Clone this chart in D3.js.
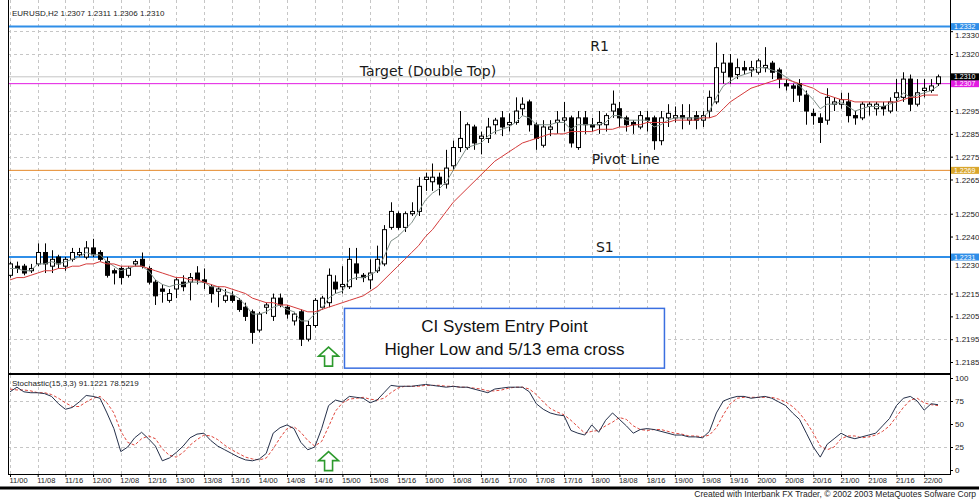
<!DOCTYPE html>
<html>
<head>
<meta charset="utf-8">
<script src="https://cdn.jsdelivr.net/npm/d3@7"></script>
<style>
  body { margin: 0; background: #fff; }
  svg { display: block; }
</style>
</head>
<body>
<svg id="chart" width="979" height="502"></svg>
<script>
// ---- data (one value per 2h bar) ----
const opens = [
  1.2223,1.2227,1.2227,1.2225,1.2228,1.2233,1.2227,1.2231,1.2227,1.2230,
  1.2232,1.2231,1.2235,1.2233,1.2229,1.2225,1.2226,1.2223,1.2228,1.2230,
  1.2226,1.2220,1.2217,1.2212,1.2217,1.2220,1.2220,1.2224,1.2221,1.2218,
  1.2216,1.2212,1.2214,1.2212,1.2209,1.2207,1.2199,1.2209,1.2205,1.2213,
  1.2209,1.2203,1.2207,1.2195,1.2201,1.2209,1.2211,1.2220,1.2218,1.2218,
  1.2228,1.2223,1.2221,1.2225,1.2228,1.2244,1.2250,1.2244,1.2250,1.2251,
  1.2265,1.2264,1.2266,1.2263,1.2271,1.2279,1.2279,1.2288,1.2283,1.2283,
  1.2289,1.2292,1.2289,1.2290,1.2296,1.2299,1.2289,1.2280,1.2287,1.2290,
  1.2291,1.2292,1.2279,1.2292,1.2289,1.2289,1.2289,1.2295,1.2296,1.2292,
  1.2290,1.2288,1.2292,1.2292,1.2282,1.2292,1.2292,1.2293,1.2291,1.2293,
  1.2291,1.2295,1.2299,1.2312,1.2316,1.2311,1.2314,1.2313,1.2312,1.2314,
  1.2316,1.2313,1.2307,1.2306,1.2307,1.2302,1.2294,1.2292,1.2291,1.2298,
  1.2298,1.2299,1.2293,1.2292,1.2297,1.2296,1.2297,1.2295,1.2301,1.2301,
  1.2309,1.2298,1.2304,1.2304,1.2307
];
const highs = [
  1.2229,1.2229,1.2228,1.2228,1.2237,1.2237,1.2234,1.2232,1.2231,1.2235,
  1.2235,1.2238,1.2239,1.2234,1.2231,1.2226,1.2227,1.2227,1.2230,1.2233,
  1.2227,1.2221,1.2219,1.2217,1.2222,1.2223,1.2224,1.2227,1.2226,1.2219,
  1.2218,1.2217,1.2216,1.2213,1.2211,1.2208,1.2207,1.2211,1.2215,1.2215,
  1.2210,1.2207,1.2208,1.2203,1.2213,1.2214,1.2226,1.2223,1.2227,1.2235,
  1.2235,1.2224,1.2230,1.2236,1.2245,1.2255,1.2251,1.2251,1.2255,1.2266,
  1.2268,1.2272,1.2268,1.2278,1.2282,1.2295,1.2290,1.2289,1.2286,1.2292,
  1.2292,1.2295,1.2294,1.2301,1.2301,1.2300,1.2290,1.2291,1.2291,1.2295,
  1.2299,1.2293,1.2295,1.2295,1.2292,1.2295,1.2294,1.2304,1.2299,1.2293,
  1.2291,1.2295,1.2295,1.2293,1.2295,1.2298,1.2297,1.2298,1.2298,1.2295,
  1.2295,1.2304,1.2325,1.2320,1.2320,1.2318,1.2317,1.2317,1.2318,1.2323,
  1.2317,1.2314,1.2309,1.2307,1.2309,1.2304,1.2296,1.2294,1.2305,1.2301,
  1.2303,1.2303,1.2295,1.2299,1.2299,1.2299,1.2299,1.2301,1.2309,1.2312,
  1.2311,1.2309,1.2309,1.2309,1.2311
];
const lows = [
  1.2222,1.2224,1.2223,1.2224,1.2227,1.2224,1.2224,1.2226,1.2225,1.2229,
  1.2231,1.2230,1.2231,1.2229,1.2222,1.2219,1.2219,1.2222,1.2227,1.2226,
  1.2219,1.2210,1.2211,1.2211,1.2213,1.2216,1.2212,1.2219,1.2217,1.2211,
  1.2209,1.2211,1.2211,1.2207,1.2203,1.2193,1.2198,1.2206,1.2203,1.2209,
  1.2204,1.2201,1.2192,1.2194,1.2200,1.2208,1.2209,1.2215,1.2215,1.2217,
  1.2221,1.2220,1.2217,1.2224,1.2227,1.2243,1.2243,1.2242,1.2249,1.2249,
  1.2260,1.2260,1.2258,1.2261,1.2269,1.2277,1.2278,1.2278,1.2276,1.2281,
  1.2285,1.2284,1.2286,1.2289,1.2293,1.2286,1.2278,1.2279,1.2284,1.2285,
  1.2286,1.2279,1.2278,1.2285,1.2286,1.2285,1.2286,1.2292,1.2288,1.2286,
  1.2285,1.2287,1.2286,1.2278,1.2280,1.2288,1.2290,1.2287,1.2289,1.2287,
  1.2288,1.2292,1.2298,1.2307,1.2307,1.2309,1.2311,1.2310,1.2311,1.2312,
  1.2309,1.2305,1.2304,1.2299,1.2299,1.2289,1.2289,1.2281,1.2289,1.2295,
  1.2296,1.2290,1.2289,1.2291,1.2293,1.2293,1.2293,1.2294,1.2295,1.2299,
  1.2295,1.2297,1.2301,1.2303,1.2306
];
const closes = [
  1.2228,1.2226,1.2224,1.2226,1.2233,1.2228,1.2230,1.2228,1.2230,1.2233,
  1.2233,1.2235,1.2232,1.2230,1.2223,1.2224,1.2222,1.2226,1.2229,1.2227,
  1.2220,1.2214,1.2216,1.2215,1.2221,1.2218,1.2222,1.2221,1.2220,1.2215,
  1.2217,1.2214,1.2212,1.2208,1.2205,1.2198,1.2206,1.2210,1.2213,1.2210,
  1.2206,1.2206,1.2195,1.2201,1.2212,1.2213,1.2223,1.2217,1.2219,1.2230,
  1.2224,1.2222,1.2224,1.2230,1.2243,1.2251,1.2244,1.2250,1.2251,1.2262,
  1.2266,1.2266,1.2263,1.2270,1.2279,1.2283,1.2289,1.2281,1.2284,1.2288,
  1.2291,1.2288,1.2290,1.2295,1.2298,1.2289,1.2283,1.2288,1.2288,1.2291,
  1.2292,1.2281,1.2292,1.2289,1.2288,1.2290,1.2293,1.2298,1.2292,1.2289,
  1.2289,1.2293,1.2291,1.2282,1.2292,1.2294,1.2293,1.2292,1.2292,1.2291,
  1.2293,1.2301,1.2314,1.2316,1.2310,1.2314,1.2313,1.2314,1.2317,1.2315,
  1.2312,1.2309,1.2306,1.2305,1.2302,1.2295,1.2293,1.2290,1.2301,1.2299,
  1.2300,1.2293,1.2292,1.2298,1.2298,1.2298,1.2296,1.2299,1.2303,1.2309,
  1.2298,1.2303,1.2305,1.2306,1.2310
];

// 5 ema (grey) and 13 ema (red)
const emaFast = [
  1.2226,1.2226,1.2225,1.2225,1.2228,1.2228,1.2229,1.2228,1.2229,1.2230,
  1.2231,1.2233,1.2232,1.2232,1.2229,1.2227,1.2225,1.2226,1.2227,1.2227,
  1.2225,1.2221,1.2219,1.2218,1.2219,1.2219,1.2220,1.2220,1.2220,1.2218,
  1.2218,1.2216,1.2215,1.2213,1.2210,1.2206,1.2206,1.2207,1.2209,1.2210,
  1.2208,1.2207,1.2203,1.2203,1.2206,1.2208,1.2213,1.2215,1.2216,1.2221,
  1.2222,1.2222,1.2223,1.2225,1.2231,1.2238,1.2240,1.2243,1.2246,1.2251,
  1.2256,1.2259,1.2261,1.2264,1.2269,1.2274,1.2279,1.2280,1.2281,1.2284,
  1.2286,1.2287,1.2288,1.2290,1.2293,1.2292,1.2289,1.2289,1.2289,1.2290,
  1.2290,1.2287,1.2289,1.2289,1.2289,1.2289,1.2290,1.2293,1.2293,1.2291,
  1.2291,1.2291,1.2291,1.2288,1.2289,1.2291,1.2292,1.2292,1.2292,1.2292,
  1.2292,1.2295,1.2301,1.2306,1.2308,1.2310,1.2311,1.2312,1.2314,1.2314,
  1.2313,1.2312,1.2310,1.2308,1.2306,1.2303,1.2300,1.2296,1.2298,1.2298,
  1.2299,1.2297,1.2295,1.2296,1.2297,1.2297,1.2297,1.2298,1.2299,1.2303,
  1.2301,1.2302,1.2303,1.2304,1.2306
];
const emaSlow = [
  1.2221,1.2222,1.2222,1.2223,1.2224,1.2225,1.2225,1.2226,1.2226,1.2227,
  1.2227,1.2228,1.2228,1.2229,1.2228,1.2228,1.2227,1.2227,1.2227,1.2227,
  1.2226,1.2225,1.2224,1.2223,1.2222,1.2222,1.2221,1.2221,1.2220,1.2219,
  1.2218,1.2218,1.2217,1.2216,1.2215,1.2213,1.2212,1.2211,1.2211,1.2210,
  1.2210,1.2209,1.2208,1.2207,1.2207,1.2208,1.2209,1.2210,1.2211,1.2212,
  1.2213,1.2214,1.2216,1.2218,1.2221,1.2224,1.2227,1.2230,1.2233,1.2236,
  1.2240,1.2243,1.2247,1.2251,1.2255,1.2258,1.2261,1.2264,1.2267,1.2270,
  1.2273,1.2275,1.2277,1.2279,1.2281,1.2282,1.2283,1.2284,1.2285,1.2285,
  1.2285,1.2286,1.2286,1.2286,1.2286,1.2287,1.2287,1.2287,1.2288,1.2288,
  1.2289,1.2289,1.2290,1.2290,1.2290,1.2290,1.2291,1.2291,1.2291,1.2291,
  1.2292,1.2292,1.2293,1.2296,1.2299,1.2301,1.2303,1.2305,1.2306,1.2307,
  1.2308,1.2309,1.2309,1.2308,1.2307,1.2306,1.2305,1.2303,1.2302,1.2301,
  1.2300,1.2300,1.2299,1.2299,1.2299,1.2299,1.2299,1.2299,1.2299,1.2300,
  1.2301,1.2301,1.2302,1.2302,1.2302
];

// Stochastic(15,3,3): main (solid) and signal (dashed)
const stochMain = [
  85,90,85,84,84,83,80,72,66,68,
  74,81,80,78,62,45,20,25,35,41,
  34,26,10,13,19,26,35,39,40,32,
  26,22,18,14,11,10,12,18,40,46,
  49,45,30,22,25,45,70,76,74,80,
  79,78,73,76,84,92,91,91,91,92,
  93,92,91,90,91,90,90,88,86,84,
  88,89,90,90,90,85,72,66,62,60,
  59,43,40,38,49,41,54,62,55,48,
  40,44,45,44,42,40,38,38,36,36,
  35,42,62,75,78,80,80,78,79,80,
  78,74,70,62,55,40,25,14,28,34,
  40,36,34,36,38,40,48,56,70,78,
  80,75,65,72,71
];
const stochSignal = [
  88,87,87,86,84,84,82,78,73,69,
  69,74,78,80,73,62,42,30,27,34,
  37,34,23,16,14,19,27,33,38,37,
  33,27,22,18,14,12,11,13,23,35,
  45,47,41,32,26,31,47,64,73,77,
  78,79,77,76,78,84,89,91,91,91,
  92,92,92,91,91,90,90,89,88,86,
  86,87,89,90,90,88,82,74,67,63,
  60,54,47,40,42,43,48,52,57,55,
  48,44,43,44,44,42,40,39,37,37,
  36,38,46,60,72,78,79,79,79,79,
  79,77,74,69,62,52,40,26,22,25,
  34,37,37,35,36,38,42,48,58,68,
  76,78,73,71,70
];

const priceTicks = [1.2330,1.2320,1.2295,1.2285,1.2275,1.2265,1.2250,1.2240,1.2230,1.2215,1.2205,1.2195,1.2185];
const priceGrid = [1.2330,1.2320,1.2295,1.2285,1.2275,1.2265,1.2250,1.2215,1.2195];
const stochTicks = [0,25,50,75,100];
const stochGrid = [25,75];
const dateLabels = [
  "11/00","11/08","11/16","12/00","12/08","12/16","13/00","13/08","13/16",
  "14/00","14/08","14/16","15/00","15/08","15/16","16/00","16/08","16/16",
  "17/00","17/08","17/16","18/00","18/08","18/16","19/00","19/08","19/16",
  "20/00","20/08","20/16","21/00","21/08","21/16","22/00"
];
const barsPerLabel = 4;

// horizontal levels drawn on the chart
const levelNames  = ["R1","Target (Double Top)","Bid","Pivot Line","S1"];
const levelValues = [1.2332, 1.2307, 1.2310, 1.2269, 1.2231];
const entryBar = 46;

// ---- layout ----
const svg = d3.select("#chart");
const left = 8, right = 950, mainBottom = 374, stochTop = 375, stochBottom = 474;

const x = d3.scaleLinear().domain([0, opens.length - 1]).range([10, 938]);
const y = d3.scaleLinear().domain([1.2185, 1.2320]).range([362, 54]);
const ys = d3.scaleLinear().domain([0, 100]).range([470, 378]);

const levelStyle = {
  "R1": { stroke: "#2f8ee8", width: 2, box: "#2f8ee8" },
  "Target (Double Top)": { stroke: "#e21ae2", width: 1, box: "#e21ae2" },
  "Bid": { stroke: "#c4c4c4", width: 1, box: "#000" },
  "Pivot Line": { stroke: "#e4882a", width: 1, box: "#d9a62c" },
  "S1": { stroke: "#2f8ee8", width: 2, box: "#2f8ee8" }
};

svg.append("defs").append("clipPath").attr("id", "mainClip")
  .append("rect").attr("x", left).attr("y", 0).attr("width", right - left).attr("height", mainBottom);
svg.select("defs").append("clipPath").attr("id", "stochClip")
  .append("rect").attr("x", left).attr("y", stochTop).attr("width", right - left).attr("height", stochBottom - stochTop);

// ---- grid ----
const labelBars = dateLabels.map((d, i) => i * barsPerLabel);
const grid = svg.append("g").attr("stroke", "#c6c6c6").attr("stroke-dasharray", "3,3").attr("stroke-width", 1);
labelBars.forEach(b => {
  const gx = Math.round(x(b)) + 0.5;
  grid.append("line").attr("x1", gx).attr("x2", gx).attr("y1", 0).attr("y2", mainBottom);
  grid.append("line").attr("x1", gx).attr("x2", gx).attr("y1", stochTop).attr("y2", stochBottom);
});
priceGrid.forEach(p => {
  const gy = Math.round(y(p)) + 0.5;
  grid.append("line").attr("x1", left).attr("x2", right).attr("y1", gy).attr("y2", gy);
});
stochGrid.forEach(v => {
  const gy = Math.round(ys(v)) + 0.5;
  grid.append("line").attr("x1", left).attr("x2", right).attr("y1", gy).attr("y2", gy);
});

// ---- level lines ----
const main = svg.append("g").attr("clip-path", "url(#mainClip)");
levelNames.forEach((n, i) => {
  const st = levelStyle[n];
  main.append("line")
    .attr("x1", left).attr("x2", right)
    .attr("y1", y(levelValues[i])).attr("y2", y(levelValues[i]))
    .attr("stroke", st.stroke).attr("stroke-width", st.width);
});

// ---- candles ----
const bars = d3.range(opens.length);
main.append("g").selectAll("line").data(bars).join("line")
  .attr("x1", i => Math.round(x(i)) + 0.5).attr("x2", i => Math.round(x(i)) + 0.5)
  .attr("y1", i => y(highs[i])).attr("y2", i => y(lows[i]))
  .attr("stroke", "#000").attr("stroke-width", 1);
main.append("g").selectAll("rect").data(bars).join("rect")
  .attr("x", i => Math.round(x(i)) - 1.5)
  .attr("y", i => y(Math.max(opens[i], closes[i])))
  .attr("width", 4)
  .attr("height", i => Math.max(1, y(Math.min(opens[i], closes[i])) - y(Math.max(opens[i], closes[i]))))
  .attr("fill", i => closes[i] >= opens[i] ? "#fff" : "#000")
  .attr("stroke", "#000").attr("stroke-width", 1);

// ---- moving averages ----
const maLine = arr => d3.line().x((d, i) => x(i)).y(d => y(d))(arr);
main.append("path").attr("d", maLine(emaFast)).attr("fill", "none").attr("stroke", "#7f8f88").attr("stroke-width", 1);
main.append("path").attr("d", maLine(emaSlow)).attr("fill", "none").attr("stroke", "#d43a3a").attr("stroke-width", 1);

// ---- level captions ----
const cap = svg.append("g").attr("font-family", "DejaVu Sans, sans-serif").attr("font-size", 14).attr("fill", "#1a1a1a");
cap.append("text").attr("x", x(83.8)).attr("y", y(levelValues[0]) + 24).text(levelNames[0]);
cap.append("text").attr("x", x(50.5)).attr("y", y(levelValues[1]) - 8).text(levelNames[1]);
cap.append("text").attr("x", x(84)).attr("y", y(levelValues[3]) - 6).text(levelNames[3]);
cap.append("text").attr("x", x(84.6)).attr("y", y(levelValues[4]) - 5).text(levelNames[4]);

// ---- entry annotation ----
const boxL = x(48.3), boxR = x(94.5), boxT = y(1.22085), boxB = y(1.21823);
svg.append("rect").attr("x", boxL).attr("y", boxT).attr("width", boxR - boxL).attr("height", boxB - boxT)
  .attr("fill", "#fff").attr("stroke", "#3b6fe0").attr("stroke-width", 1.5);
const note = svg.append("g").attr("font-family", "Liberation Sans, Arial, sans-serif").attr("font-size", 17)
  .attr("fill", "#111").attr("text-anchor", "middle");
note.append("text").attr("x", (boxL + boxR) / 2).attr("y", boxT + 24).text("CI System Entry Point");
note.append("text").attr("x", (boxL + boxR) / 2).attr("y", boxT + 47).text("Higher Low and 5/13 ema cross");

function upArrow(cx, top) {
  const p = [[0,0],[10,9],[4,9],[4,19],[-4,19],[-4,9],[-10,9]].map(d => [cx + d[0], top + d[1]]);
  svg.append("polygon").attr("points", p.map(d => d.join(",")).join(" "))
    .attr("fill", "#fff").attr("stroke", "#2d9a2d").attr("stroke-width", 1.6).attr("stroke-linejoin", "miter");
}
upArrow(x(entryBar), y(1.21915));
upArrow(x(entryBar), ys(20));

// ---- stochastic ----
const stoch = svg.append("g").attr("clip-path", "url(#stochClip)");
const stLine = d3.line().x((d, i) => x(i)).y(d => ys(d));
stoch.append("path").attr("d", stLine(stochSignal)).attr("fill", "none").attr("stroke", "#e0463c")
  .attr("stroke-width", 1).attr("stroke-dasharray", "3,2");
stoch.append("path").attr("d", stLine(stochMain)).attr("fill", "none").attr("stroke", "#25304a").attr("stroke-width", 1);

// ---- axes ----
const axisFont = "Liberation Sans, Arial, sans-serif";
const boxHalf = 3.5;
const pAxis = svg.append("g").attr("transform", `translate(${right},0)`)
  .call(d3.axisRight(y).tickValues(priceTicks).tickSize(3).tickPadding(2).tickFormat(d3.format(".4f")));
pAxis.select(".domain").remove();
pAxis.selectAll("text").attr("font-family", axisFont).attr("font-size", 8).attr("fill", "#222");
// labels partly hidden behind a price box peek out just below it
pAxis.selectAll(".tick").each(function(v) {
  levelValues.forEach(lv => {
    const gap = y(v) - y(lv);
    if (Math.abs(gap) < 8) d3.select(this).select("text").attr("y", Math.max(0, boxHalf + 4.5 - gap));
  });
});

const sAxis = svg.append("g").attr("transform", `translate(${right},0)`)
  .call(d3.axisRight(ys).tickValues(stochTicks).tickSize(3).tickPadding(2));
sAxis.select(".domain").remove();
sAxis.selectAll("text").attr("font-family", axisFont).attr("font-size", 8).attr("fill", "#222");

const xAxis = svg.append("g").attr("transform", `translate(0,${stochBottom})`)
  .call(d3.axisBottom(x).tickValues(labelBars).tickSize(3).tickPadding(1).tickFormat((d, i) => dateLabels[i]));
xAxis.select(".domain").remove();
xAxis.selectAll("text").attr("font-family", axisFont).attr("font-size", 7.5).attr("fill", "#222")
  .attr("text-anchor", "start").attr("dx", "-1");

// price boxes on the axis
levelNames.forEach((n, i) => {
  const cy = y(levelValues[i]);
  const g = svg.append("g");
  g.append("rect").attr("x", right + 1).attr("y", cy - boxHalf).attr("width", 979 - right - 1).attr("height", boxHalf * 2)
    .attr("fill", levelStyle[n].box);
  g.append("text").attr("x", right + 4).attr("y", cy + 2.5).attr("font-family", axisFont).attr("font-size", 7)
    .attr("fill", "#fff").text(d3.format(".4f")(levelValues[i]));
});

// ---- frame ----
const frame = svg.append("g").attr("stroke", "#000").attr("fill", "none");
frame.append("line").attr("x1", left + 0.5).attr("x2", left + 0.5).attr("y1", 0).attr("y2", stochBottom);
frame.append("line").attr("x1", right + 0.5).attr("x2", right + 0.5).attr("y1", 0).attr("y2", stochBottom);
frame.append("line").attr("x1", left).attr("x2", right + 1).attr("y1", mainBottom).attr("y2", mainBottom).attr("stroke-width", 2);
frame.append("line").attr("x1", left).attr("x2", right + 1).attr("y1", stochBottom + 0.5).attr("y2", stochBottom + 0.5);
frame.append("line").attr("x1", 0).attr("x2", 979).attr("y1", 488).attr("y2", 488).attr("stroke-width", 3);

// ---- texts ----
const info = svg.append("g").attr("font-family", axisFont).attr("font-size", 8).attr("fill", "#222");
info.append("text").attr("x", 12).attr("y", 16)
  .text("EURUSD,H2  " + [opens, highs, lows, closes].map(a => a[a.length - 1].toFixed(4)).join(" "));
info.append("text").attr("x", 12).attr("y", 386)
  .text("Stochastic(15,3,3)  91.1221  78.5219");
info.append("text").attr("x", 976).attr("y", 497).attr("text-anchor", "end").attr("font-size", 8.5)
  .text("Created with Interbank FX Trader, © 2002 2003 MetaQuotes Sofware Corp");
</script>
</body>
</html>
